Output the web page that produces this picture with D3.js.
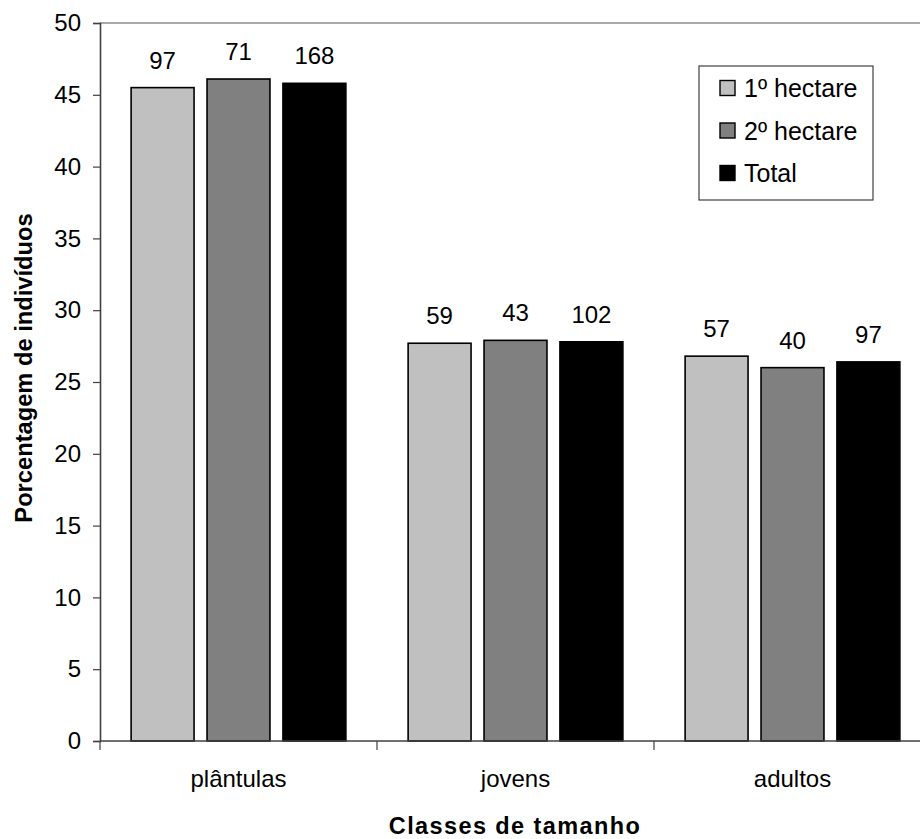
<!DOCTYPE html>
<html>
<head>
<meta charset="utf-8">
<script src="https://cdn.jsdelivr.net/npm/d3@7"></script>
<style>
  html, body { margin: 0; padding: 0; background: #fff; }
  svg { display: block; font-family: "Liberation Sans", Arial, sans-serif; }
</style>
</head>
<body>
<svg id="chart" width="920" height="839"></svg>
<script>
// Size classes on the x axis
const categories = ["plântulas", "jovens", "adultos"];
// Series names (one bar per series in each class)
const seriesNames = ["1º hectare", "2º hectare", "Total"];
// Percentage of individuals per class, for each series
const pctHectare1 = [45.5, 27.7, 26.8];
const pctHectare2 = [46.1, 27.9, 26.0];
const pctTotal    = [45.8, 27.8, 26.4];
// Number of individuals printed above each bar
const nHectare1 = [97, 59, 57];
const nHectare2 = [71, 43, 40];
const nTotal    = [168, 102, 97];
// Y axis ticks
const yTicks = [0, 5, 10, 15, 20, 25, 30, 35, 40, 45, 50];

const fills = ["#c0c0c0", "#808080", "#000000"];
const pctSeries = [pctHectare1, pctHectare2, pctTotal];
const countSeries = [nHectare1, nHectare2, nTotal];

const svg = d3.select("#chart");
const plotLeft = 100, plotRight = 931, plotTop = 23, plotBottom = 741;

const x0 = d3.scaleBand().domain(categories).range([plotLeft, plotRight]).paddingInner(0).paddingOuter(0);
const x1 = d3.scaleBand().domain(seriesNames).range([0, x0.bandwidth()])
  .paddingInner(0.171).paddingOuter(0.41);
const y = d3.scaleLinear().domain([0, 50]).range([plotBottom, plotTop]);

// Top border of the plot area
svg.append("line")
  .attr("x1", plotLeft).attr("x2", 920).attr("y1", y(50)).attr("y2", y(50))
  .attr("stroke", "#8c8c8c").attr("stroke-width", 1.5);

// Bars
const rows = [];
categories.forEach((c, i) => {
  seriesNames.forEach((s, j) => {
    rows.push({ cat: c, ser: s, j, pct: pctSeries[j][i], n: countSeries[j][i] });
  });
});

svg.append("g").selectAll("rect").data(rows).join("rect")
  .attr("x", d => x0(d.cat) + x1(d.ser))
  .attr("y", d => y(d.pct))
  .attr("width", x1.bandwidth())
  .attr("height", d => y(0) - y(d.pct))
  .attr("fill", d => fills[d.j])
  .attr("stroke", "#000").attr("stroke-width", 1.6);

// Count labels above bars
svg.append("g").selectAll("text").data(rows).join("text")
  .attr("x", d => x0(d.cat) + x1(d.ser) + x1.bandwidth() / 2)
  .attr("y", d => y(d.pct) - 19)
  .attr("text-anchor", "middle")
  .attr("font-size", 24)
  .attr("fill", "#000")
  .text(d => d.n);

// Y axis
const yAxis = d3.axisLeft(y).tickValues(yTicks).tickSize(7).tickPadding(12);
const gy = svg.append("g").attr("transform", `translate(${plotLeft},0)`).call(yAxis);
gy.select(".domain").attr("stroke", "#404040").attr("stroke-width", 1.6);
gy.selectAll(".tick line").attr("stroke", "#404040").attr("stroke-width", 1.2);
gy.selectAll(".tick text").attr("font-size", 24).attr("fill", "#000")
  .attr("font-family", "Liberation Sans, Arial, sans-serif");

// X axis: baseline with ticks at class boundaries
const gx = svg.append("g");
gx.append("line")
  .attr("x1", plotLeft).attr("x2", 920).attr("y1", y(0)).attr("y2", y(0))
  .attr("stroke", "#404040").attr("stroke-width", 1.6);
const boundaries = categories.map(c => x0(c)).concat([x0(categories[categories.length - 1]) + x0.bandwidth()]);
gx.selectAll("line.tk").data(boundaries).join("line").attr("class", "tk")
  .attr("x1", d => d).attr("x2", d => d)
  .attr("y1", y(0)).attr("y2", y(0) + 9)
  .attr("stroke", "#404040").attr("stroke-width", 1.2);
gx.selectAll("text").data(categories).join("text")
  .attr("x", d => x0(d) + x0.bandwidth() / 2)
  .attr("y", 787)
  .attr("text-anchor", "middle")
  .attr("font-size", 24)
  .attr("fill", "#000")
  .text(d => d);

// Axis titles
svg.append("text")
  .attr("x", 515).attr("y", 834)
  .attr("text-anchor", "middle")
  .attr("font-size", 23.5).attr("font-weight", "bold")
  .attr("letter-spacing", 1.4)
  .text("Classes de tamanho");

svg.append("text")
  .attr("transform", "translate(32,368) rotate(-90)")
  .attr("text-anchor", "middle")
  .attr("font-size", 23.7).attr("font-weight", "bold")
  .text("Porcentagem de indivíduos");

// Legend
const legend = svg.append("g");
legend.append("rect")
  .attr("x", 699).attr("y", 66).attr("width", 174).attr("height", 134)
  .attr("fill", "#fff").attr("stroke", "#404040").attr("stroke-width", 1.2);
const items = legend.selectAll("g.item").data(seriesNames).join("g").attr("class", "item")
  .attr("transform", (d, i) => `translate(720,${88 + i * 42.5})`);
items.append("rect")
  .attr("x", 0).attr("y", -7.5).attr("width", 15).attr("height", 15)
  .attr("fill", (d, i) => fills[i]).attr("stroke", "#000").attr("stroke-width", 1.4);
items.append("text")
  .attr("x", 24).attr("y", 0).attr("dy", "0.36em")
  .attr("font-size", 25).attr("fill", "#000")
  .text(d => d);
</script>
</body>
</html>
